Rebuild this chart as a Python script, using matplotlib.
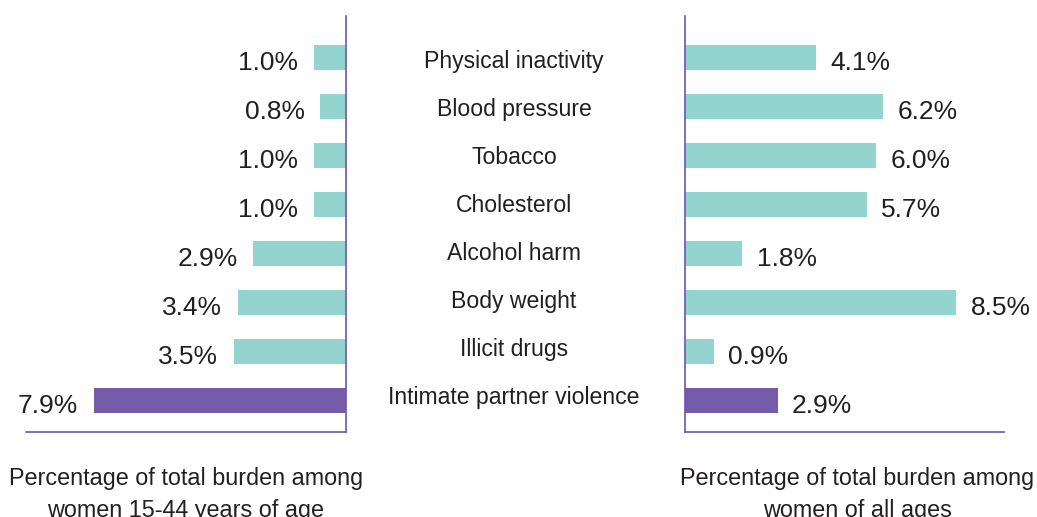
import matplotlib
matplotlib.use('Agg')
import matplotlib.pyplot as plt
import matplotlib.transforms as mtransforms
import numpy as np

plt.rcParams['font.family'] = ['Liberation Sans', 'DejaVu Sans']

categories = ['Physical inactivity', 'Blood pressure', 'Tobacco', 'Cholesterol',
              'Alcohol harm', 'Body weight', 'Illicit drugs', 'Intimate partner violence']
women_15_44 = [1.0, 0.8, 1.0, 1.0, 2.9, 3.4, 3.5, 7.9]
women_all = [4.1, 6.2, 6.0, 5.7, 1.8, 8.5, 0.9, 2.9]
left_title = 'Percentage of total burden among\nwomen 15-44 years of age'
right_title = 'Percentage of total burden among\nwomen of all ages'

TEAL = '#94d4ce'
PURPLE = '#745ca8'
LINE = '#6a55ae'
TXT = '#231f20'

W, H = 1037, 517
fig = plt.figure(figsize=(W / 100, H / 100), dpi=100)

px_per_pct = 31.9
y_top, y_bot = 16, 432
ax_l = fig.add_axes([26 / W, 1 - y_bot / H, 320 / W, (y_bot - y_top) / H])
ax_r = fig.add_axes([685 / W, 1 - y_bot / H, 319 / W, (y_bot - y_top) / H])

y = np.arange(len(categories))
colors = [TEAL] * (len(categories) - 1) + [PURPLE]

for ax, vals, side in [(ax_l, women_15_44, 'left'), (ax_r, women_all, 'right')]:
    ax.barh(y, vals, height=0.51, color=colors)
    ax.set_ylim(7.65, -0.85)
    for s in ax.spines.values():
        s.set_visible(False)
    ax.spines['bottom'].set_visible(True)
    ax.spines['bottom'].set_color(LINE)
    ax.spines['bottom'].set_linewidth(1.2)
    ax.set_xticks([])
    ax.set_yticks([])
    for yi, v in zip(y, vals):
        if side == 'left':
            ax.annotate('{:.1f}%'.format(v), (v, yi), xytext=(-11.5, -4),
                        textcoords='offset points', ha='right', va='center',
                        fontsize=19, color=TXT)
        else:
            ax.annotate('{:.1f}%'.format(v), (v, yi), xytext=(10.5, -4),
                        textcoords='offset points', ha='left', va='center',
                        fontsize=19, color=TXT)

ax_l.set_xlim(320 / px_per_pct, 0)
ax_r.set_xlim(0, 319 / px_per_pct)
ax_l.spines['right'].set_visible(True)
ax_l.spines['right'].set_color(LINE)
ax_l.spines['right'].set_linewidth(1.2)
ax_r.spines['left'].set_visible(True)
ax_r.spines['left'].set_color(LINE)
ax_r.spines['left'].set_linewidth(1.2)

# category labels sit on a slightly tighter pitch than the bars
trans = mtransforms.blended_transform_factory(fig.transFigure, ax_r.transData)
for yi, c in zip(y, categories):
    ax_r.text(514 / W, yi * 48 / 48.9 + 0.08, c, transform=trans, ha='center', va='center',
              fontsize=16.6, color=TXT, clip_on=False)

fig.text(186 / W, 1 - 494 / H, left_title, ha='center', va='center',
         fontsize=16.8, color=TXT, linespacing=1.5)
fig.text(857 / W, 1 - 494 / H, right_title, ha='center', va='center',
         fontsize=16.8, color=TXT, linespacing=1.5)

fig.savefig('out.png', dpi=100)
